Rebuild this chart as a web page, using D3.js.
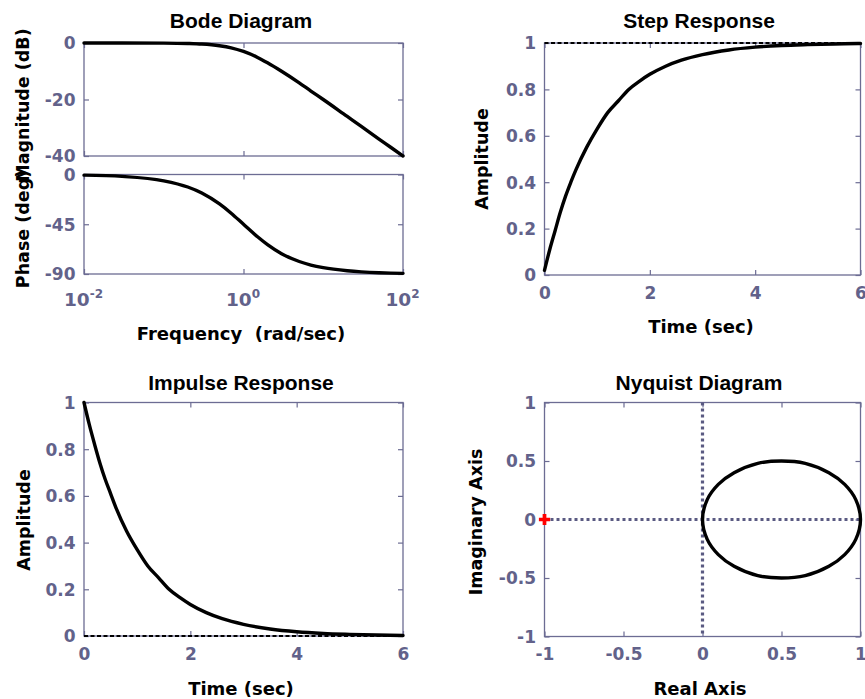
<!DOCTYPE html>
<html>
<head>
<meta charset="utf-8">
<script src="https://cdn.jsdelivr.net/npm/d3@7"></script>
<style>
  html, body { margin: 0; padding: 0; background: #ffffff; }
  svg { display: block; }
</style>
</head>
<body>
<script>
// ---- Data: first-order system responses ----
const bodeFreq     = [0.01, 0.03, 0.1, 0.2, 0.3, 0.5, 0.7, 1, 1.5, 2, 3, 5, 7, 10, 20, 30, 50, 70, 100];
const bodeMagDb    = [0, 0, -0.04, -0.17, -0.37, -0.97, -1.7, -3.0, -5.1, -7.0, -10.0, -14.1, -17.0, -20.0, -26.0, -29.5, -34.0, -36.9, -40.0];
const bodePhaseDeg = [-0.6, -1.7, -5.7, -11.3, -16.7, -26.6, -35.0, -45.0, -56.3, -63.4, -71.6, -78.7, -81.9, -84.3, -87.1, -88.1, -88.9, -89.2, -89.4];

const respTime   = [0, 0.1, 0.2, 0.3, 0.4, 0.5, 0.6, 0.8, 1.0, 1.2, 1.4, 1.6, 1.8, 2.0, 2.3, 2.6, 3.0, 3.5, 4.0, 4.5, 5.0, 5.5, 6.0];
const stepAmp    = [0.02, 0.11, 0.19, 0.27, 0.34, 0.40, 0.455, 0.55, 0.63, 0.70, 0.75, 0.80, 0.835, 0.865, 0.90, 0.926, 0.95, 0.97, 0.982, 0.989, 0.993, 0.996, 0.998];
const impulseAmp = [1, 0.905, 0.82, 0.74, 0.67, 0.61, 0.55, 0.45, 0.37, 0.30, 0.25, 0.20, 0.165, 0.135, 0.10, 0.074, 0.05, 0.03, 0.018, 0.011, 0.007, 0.004, 0.002];

const nyqReal = [1.00, 0.97, 0.90, 0.80, 0.65, 0.50, 0.35, 0.20, 0.10, 0.03, 0.00, 0.03, 0.10, 0.20, 0.35, 0.50, 0.65, 0.80, 0.90, 0.97];
const nyqImag = [0.00, -0.17, -0.30, -0.40, -0.48, -0.50, -0.48, -0.40, -0.30, -0.17, 0.00, 0.17, 0.30, 0.40, 0.48, 0.50, 0.48, 0.40, 0.30, 0.17];
const criticalPoint = [-1, 0];

// ---- Tick values ----
const magTicks     = [0, -20, -40];
const phaseTicks   = [0, -45, -90];
const freqTickExp  = [-2, 0, 2];
const timeTicks    = [0, 2, 4, 6];
const ampTicks     = [0, 0.2, 0.4, 0.6, 0.8, 1];
const nyqTicks     = [-1, -0.5, 0, 0.5, 1];

// ---- Styles ----
const AXIS_COLOR = "#6c6c93";
const TICK_TEXT = "#62628a";
const TICK_FONT = "'DejaVu Sans', sans-serif";
const TITLE_FONT = "'Liberation Sans', Arial, sans-serif";
const LABEL_FONT = "'DejaVu Sans', sans-serif";
const TICK_SIZE = 17;

const svg = d3.select("body").append("svg")
  .attr("width", 865).attr("height", 699);

const fmt = d => String(d);
const blank = () => "";

function styleAxis(g, fontSize) {
  g.select(".domain").remove();
  g.selectAll(".tick line").attr("stroke", AXIS_COLOR).attr("stroke-width", 1.2);
  g.selectAll(".tick text")
    .attr("fill", TICK_TEXT)
    .attr("font-family", TICK_FONT)
    .attr("font-weight", "bold")
    .attr("font-size", fontSize || TICK_SIZE);
  g.attr("font-family", null).attr("font-size", null);
}

// Draws a boxed axes frame with inward ticks on all four sides
function frame(p) {
  const g = svg.append("g");
  g.append("rect")
    .attr("x", p.left).attr("y", p.top)
    .attr("width", p.right - p.left).attr("height", p.bottom - p.top)
    .attr("fill", "none").attr("stroke", AXIS_COLOR).attr("stroke-width", 1.3);

  const bottom = g.append("g").attr("transform", `translate(0,${p.bottom})`)
    .call(d3.axisBottom(p.x).tickValues(p.xTicks).tickSizeInner(-5).tickSizeOuter(0)
      .tickPadding(p.xPad || 11.5).tickFormat(p.xFmt || fmt));
  styleAxis(bottom, p.xFont);
  g.append("g").attr("transform", `translate(0,${p.top})`)
    .call(d3.axisTop(p.x).tickValues(p.xTicks).tickSizeInner(-5).tickSizeOuter(0).tickFormat(blank))
    .call(styleAxis);
  const left = g.append("g").attr("transform", `translate(${p.left},0)`)
    .call(d3.axisLeft(p.y).tickValues(p.yTicks).tickSizeInner(-5).tickSizeOuter(0)
      .tickPadding(8.5).tickFormat(p.yFmt || fmt));
  styleAxis(left);
  left.selectAll(".tick text").attr("dy", "0.35em");
  g.append("g").attr("transform", `translate(${p.right},0)`)
    .call(d3.axisRight(p.y).tickValues(p.yTicks).tickSizeInner(-5).tickSizeOuter(0).tickFormat(blank))
    .call(styleAxis);
  return { g, bottom };
}

function title(text, x, y) {
  svg.append("text").attr("x", x).attr("y", y)
    .attr("text-anchor", "middle")
    .attr("font-family", TITLE_FONT).attr("font-weight", "bold").attr("font-size", 21)
    .attr("fill", "#000").text(text);
}
function xLabel(text, x, y) {
  svg.append("text").attr("x", x).attr("y", y)
    .attr("text-anchor", "middle").attr("xml:space", "preserve")
    .attr("font-family", LABEL_FONT).attr("font-weight", "bold").attr("font-size", 18)
    .attr("fill", "#000").text(text);
}
function yLabel(text, x, y) {
  svg.append("text")
    .attr("transform", `translate(${x},${y}) rotate(-90)`)
    .attr("text-anchor", "middle")
    .attr("font-family", LABEL_FONT).attr("font-weight", "bold").attr("font-size", 17.5)
    .attr("fill", "#000").text(text);
}
function curve(points, x, y, curveType) {
  svg.append("path")
    .datum(points)
    .attr("fill", "none").attr("stroke", "#000").attr("stroke-width", 3.4)
    .attr("stroke-linejoin", "round").attr("stroke-linecap", "round")
    .attr("d", d3.line().x(d => x(d[0])).y(d => y(d[1])).curve(curveType || d3.curveMonotoneX));
}

// ---- Bode diagram: magnitude ----
const bodeX = d3.scaleLog().domain([0.01, 100]).range([84, 403]);
const magY = d3.scaleLinear().domain([-40, 0]).range([156, 43]);
frame({ left: 84, right: 403, top: 43, bottom: 156, x: bodeX, y: magY,
        xTicks: freqTickExp.map(e => Math.pow(10, e)), yTicks: magTicks, xFmt: blank });
curve(bodeFreq.map((f, i) => [f, bodeMagDb[i]]), bodeX, magY);

// ---- Bode diagram: phase ----
const phaseY = d3.scaleLinear().domain([-90, 0]).range([274, 174.5]);
const ph = frame({ left: 84, right: 403, top: 174.5, bottom: 274, x: bodeX, y: phaseY,
        xTicks: freqTickExp.map(e => Math.pow(10, e)), yTicks: phaseTicks, xPad: 19, xFont: 18.5 });
ph.bottom.selectAll(".tick text").each(function(d, i) {
  const t = d3.select(this).text(null).attr("dx", -1);
  t.append("tspan").text("10");
  t.append("tspan").attr("dy", -8).attr("font-size", 12).text(String(freqTickExp[i]));
});
curve(bodeFreq.map((f, i) => [f, bodePhaseDeg[i]]), bodeX, phaseY);

title("Bode Diagram", 241, 28);
xLabel("Frequency  (rad/sec)", 241, 340);
yLabel("Magnitude (dB)", 28.5, 105);
yLabel("Phase (deg)", 28.5, 229);

// ---- Step response ----
const stepX = d3.scaleLinear().domain([0, 6]).range([544.5, 860.5]);
const stepY = d3.scaleLinear().domain([0, 1]).range([275, 43]);
frame({ left: 544.5, right: 860.5, top: 43, bottom: 275, x: stepX, y: stepY,
        xTicks: timeTicks, yTicks: ampTicks });
svg.append("line")
  .attr("x1", stepX(0)).attr("x2", stepX(6)).attr("y1", stepY(1)).attr("y2", stepY(1))
  .attr("stroke", "#000").attr("stroke-width", 2).attr("stroke-dasharray", "4,2.5");
curve(respTime.map((t, i) => [t, stepAmp[i]]), stepX, stepY);
title("Step Response", 699, 28);
xLabel("Time (sec)", 701, 333);
yLabel("Amplitude", 487.5, 159);

// ---- Impulse response ----
const impX = d3.scaleLinear().domain([0, 6]).range([84, 403]);
const impY = d3.scaleLinear().domain([0, 1]).range([636, 402.5]);
frame({ left: 84, right: 403, top: 402.5, bottom: 636, x: impX, y: impY,
        xTicks: timeTicks, yTicks: ampTicks });
svg.append("line")
  .attr("x1", impX(0)).attr("x2", impX(6)).attr("y1", impY(0)).attr("y2", impY(0))
  .attr("stroke", "#000").attr("stroke-width", 2).attr("stroke-dasharray", "4,2.5");
curve(respTime.map((t, i) => [t, impulseAmp[i]]), impX, impY);
title("Impulse Response", 241, 389.5);
xLabel("Time (sec)", 241, 694.5);
yLabel("Amplitude", 30, 520);

// ---- Nyquist diagram ----
const nyqX = d3.scaleLinear().domain([-1, 1]).range([544.5, 860.5]);
const nyqY = d3.scaleLinear().domain([-1, 1]).range([636.5, 402.5]);
frame({ left: 544.5, right: 860.5, top: 402.5, bottom: 636.5, x: nyqX, y: nyqY,
        xTicks: nyqTicks, yTicks: nyqTicks });
svg.append("line")
  .attr("x1", nyqX(-1)).attr("x2", nyqX(1)).attr("y1", nyqY(0)).attr("y2", nyqY(0))
  .attr("stroke", "#5a5a82").attr("stroke-width", 3.2).attr("stroke-dasharray", "3,3");
svg.append("line")
  .attr("x1", nyqX(0)).attr("x2", nyqX(0)).attr("y1", nyqY(1)).attr("y2", nyqY(-1))
  .attr("stroke", "#5a5a82").attr("stroke-width", 3.2).attr("stroke-dasharray", "3,3");
curve(nyqReal.map((r, i) => [r, nyqImag[i]]), nyqX, nyqY, d3.curveCatmullRomClosed);
svg.append("path")
  .attr("transform", `translate(${nyqX(criticalPoint[0])},${nyqY(criticalPoint[1])})`)
  .attr("d", d3.symbol(d3.symbolCross, 70)())
  .attr("fill", "#ff0000");
title("Nyquist Diagram", 699, 389.5);
xLabel("Real Axis", 700, 694.5);
yLabel("Imaginary Axis", 481.5, 522);
</script>
</body>
</html>
